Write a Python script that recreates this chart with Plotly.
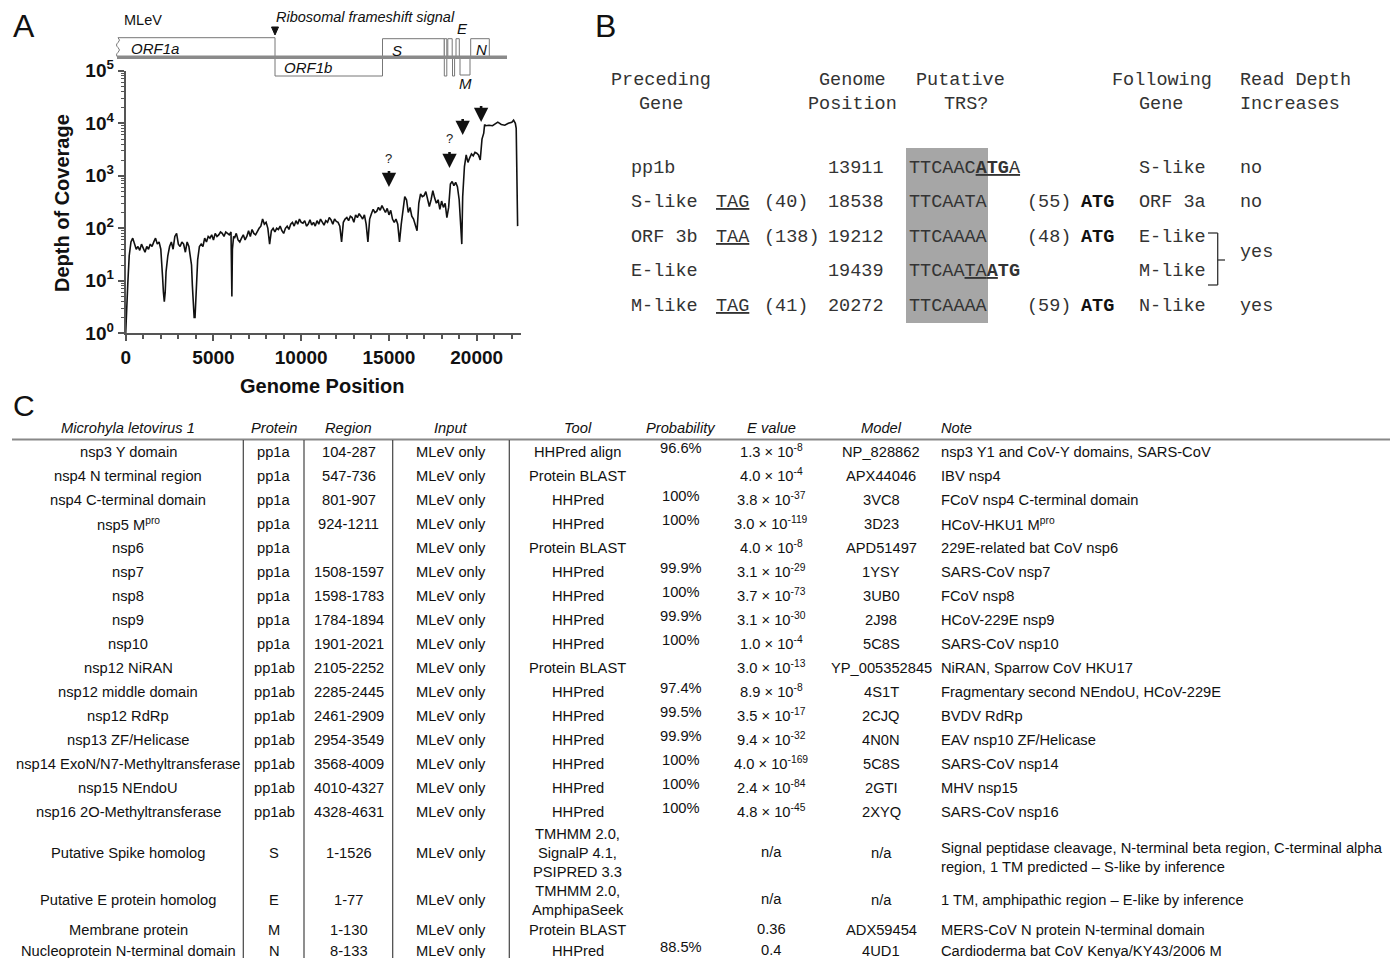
import math
import plotly.graph_objects as go

W, H = 1400, 958
SANS = "Liberation Sans"
MONO = "Liberation Mono"


def X(px):
    return px / W


def Y(py):
    return 1 - py / H


# ---------------- Panel A data ----------------
positions = [0, 60, 120, 200, 300, 400, 500, 600, 700, 800, 900, 1000, 1100, 1200, 1300, 1400, 1500,
             1600, 1700, 1800, 1900, 2000, 2050, 2100, 2150, 2200, 2250, 2300, 2400, 2500, 2600, 2700,
             2800, 2900, 3000, 3100, 3200, 3300, 3400, 3500, 3600, 3700, 3750, 3800, 3850, 3900, 3950,
             4000, 4050, 4100, 4200, 4300, 4400, 4500, 4600, 4700, 4800, 4900, 5000, 5100, 5200, 5300,
             5400, 5500, 5600, 5700, 5800, 5900, 6000, 6050, 6080, 6150, 6200, 6300, 6400, 6500, 6600,
             6700, 6800, 6900, 7000, 7100, 7200, 7300, 7400, 7500, 7600, 7700, 7800, 7900, 8000, 8100,
             8200, 8300, 8400, 8500, 8600, 8700, 8800, 8900, 9000, 9100, 9200, 9300, 9400, 9500, 9600,
             9700, 9800, 9900, 10000, 10100, 10200, 10300, 10400, 10500, 10600, 10700, 10800, 10900,
             11000, 11100, 11200, 11300, 11400, 11500, 11600, 11700, 11800, 11900, 12000, 12100, 12200,
             12300, 12400, 12500, 12600, 12700, 12800, 12900, 13000, 13100, 13200, 13300, 13400, 13500,
             13600, 13700, 13800, 13900, 14000, 14100, 14200, 14300, 14400, 14500, 14600, 14700, 14800,
             14900, 15000, 15100, 15200, 15300, 15400, 15500, 15600, 15700, 15800, 15900, 16000, 16100,
             16200, 16300, 16400, 16500, 16600, 16700, 16800, 16900, 17000, 17100, 17200, 17300, 17400,
             17500, 17600, 17700, 17800, 17900, 18000, 18100, 18200, 18300, 18400, 18500, 18600, 18700,
             18800, 18900, 19000, 19100, 19150, 19200, 19300, 19400, 19500, 19600, 19700, 19800, 19900,
             20000, 20100, 20200, 20300, 20400, 20450, 20500, 20700, 20900, 21000, 21200, 21400, 21600,
             21800, 22000, 22100, 22200, 22250, 22300, 22330]
depth = [1, 5, 9, 30, 55, 65, 50, 40, 45, 38, 50, 42, 35, 45, 40, 50, 45,
         55, 65, 50, 55, 40, 25, 12, 6, 4, 6, 15, 30, 45, 55, 40,
         70, 80, 50, 45, 55, 50, 35, 55, 45, 25, 20, 8, 3, 2, 2,
         5, 15, 25, 45, 50, 45, 65, 55, 70, 65, 75, 60, 80, 70, 75,
         85, 80, 70, 85, 80, 75, 85, 5, 40, 70, 65, 80, 60, 55, 65,
         75, 60, 70, 90, 70, 95, 80, 75, 90, 100, 110, 150, 120, 130, 100,
         50, 90, 100, 85, 100, 95, 110, 90, 80, 100, 110, 95, 120, 130, 110,
         140, 120, 150, 130, 125, 140, 110, 120, 145, 115, 130, 110, 140,
         120, 150, 130, 115, 140, 130, 160, 145, 120, 150, 135, 130, 110,
         55, 130, 150, 160, 140, 170, 160, 130, 180, 160, 190, 170, 150,
         180, 120, 55, 150, 190, 230, 200, 210, 250, 220, 270, 230, 200,
         240, 180, 220, 150, 130, 150, 120, 55, 120, 250, 400, 350, 200,
         250, 170, 150, 120, 90, 300, 450, 400, 420, 500, 380, 260, 350,
         520, 380, 300, 350, 230, 330, 250, 300, 160, 250, 700, 780, 650,
         750, 620, 350, 100, 50, 400, 1500, 2500, 1800, 2200, 2600, 2400, 2800,
         2700, 2500, 2000, 5000, 6500, 9500, 9000, 9200, 9000, 9500, 10500, 9500, 9200,
         10000, 10500, 11500, 10000, 8000, 500, 110]

x_major = [0, 5000, 10000, 15000, 20000]
x_major_text = ["0", "5000", "10000", "15000", "20000"]
y_major = [1, 10, 100, 1000, 10000, 100000]
y_major_text = ["10<sup>0</sup>", "10<sup>1</sup>", "10<sup>2</sup>", "10<sup>3</sup>",
                "10<sup>4</sup>", "10<sup>5</sup>"]
x_minor = [v for v in range(1000, 23000, 1000) if v % 5000 != 0]
y_minor = [k * 10 ** n for n in range(0, 5) for k in range(2, 10)]

# arrows: genome position, depth at arrow tip, has question mark
arrow_pos = [15000, 18450, 19200, 20250]
arrow_tip = [610, 1410, 5980, 10600]
arrow_q = [True, True, False, False]

# ---------------- Panel B data ----------------
b_prev = ["pp1b", "S-like", "ORF 3b", "E-like", "M-like"]
b_stop = ["", "<u>TAG</u>", "<u>TAA</u>", "", "<u>TAG</u>"]
b_stopdist = ["", "(40)", "(138)", "", "(41)"]
b_pos = ["13911", "18538", "19212", "19439", "20272"]
b_trs = ["TTCAAC<u><b>ATG</b>A</u>", "TTCAATA", "TTCAAAA", "TTCAA<u>TA<b>A</b></u><b>TG</b>", "TTCAAAA"]
b_atgdist = ["", "(55)", "(48)", "", "(59)"]
b_atg = ["", "<b>ATG</b>", "<b>ATG</b>", "", "<b>ATG</b>"]
b_next = ["S-like", "ORF 3a", "E-like", "M-like", "N-like"]
b_depth = ["no", "no", "", "", "yes"]

# ---------------- Panel C data ----------------
c_headers = ["Microhyla letovirus 1", "Protein", "Region", "Input", "Tool", "Probability",
             "E value", "Model", "Note"]
c_names = ["nsp3 Y domain", "nsp4 N terminal region", "nsp4 C-terminal domain", "nsp5 M<sup>pro</sup>",
           "nsp6", "nsp7", "nsp8", "nsp9", "nsp10", "nsp12 NiRAN", "nsp12 middle domain", "nsp12 RdRp",
           "nsp13 ZF/Helicase", "nsp14 ExoN/N7-Methyltransferase", "nsp15 NEndoU",
           "nsp16 2O-Methyltransferase", "Putative Spike homolog", "Putative E protein homolog",
           "Membrane protein", "Nucleoprotein N-terminal domain"]
c_protein = ["pp1a"] * 9 + ["pp1ab"] * 7 + ["S", "E", "M", "N"]
c_region = ["104-287", "547-736", "801-907", "924-1211", "", "1508-1597", "1598-1783", "1784-1894",
            "1901-2021", "2105-2252", "2285-2445", "2461-2909", "2954-3549", "3568-4009", "4010-4327",
            "4328-4631", "1-1526", "1-77", "1-130", "8-133"]
c_input = ["MLeV only"] * 20
c_tool = ["HHPred align", "Protein BLAST", "HHPred", "HHPred", "Protein BLAST", "HHPred", "HHPred",
          "HHPred", "HHPred", "Protein BLAST", "HHPred", "HHPred", "HHPred", "HHPred", "HHPred", "HHPred",
          "TMHMM 2.0,<br>SignalP 4.1,<br>PSIPRED 3.3", "TMHMM 2.0,<br>AmphipaSeek", "Protein BLAST", "HHPred"]
c_prob = ["96.6%", "", "100%", "100%", "", "99.9%", "100%", "99.9%", "100%", "", "97.4%", "99.5%",
          "99.9%", "100%", "100%", "100%", "", "", "", "88.5%"]
c_evalue = ["1.3 × 10<sup>-8</sup>", "4.0 × 10<sup>-4</sup>", "3.8 × 10<sup>-37</sup>",
            "3.0 × 10<sup>-119</sup>", "4.0 × 10<sup>-8</sup>", "3.1 × 10<sup>-29</sup>",
            "3.7 × 10<sup>-73</sup>", "3.1 × 10<sup>-30</sup>", "1.0 × 10<sup>-4</sup>",
            "3.0 × 10<sup>-13</sup>", "8.9 × 10<sup>-8</sup>", "3.5 × 10<sup>-17</sup>",
            "9.4 × 10<sup>-32</sup>", "4.0 × 10<sup>-169</sup>", "2.4 × 10<sup>-84</sup>",
            "4.8 × 10<sup>-45</sup>", "n/a", "n/a", "0.36", "0.4"]
c_model = ["NP_828862", "APX44046", "3VC8", "3D23", "APD51497", "1YSY", "3UB0", "2J98", "5C8S",
           "YP_005352845", "4S1T", "2CJQ", "4N0N", "5C8S", "2GTI", "2XYQ", "n/a", "n/a", "ADX59454", "4UD1"]
c_note = ["nsp3 Y1 and CoV-Y domains, SARS-CoV", "IBV nsp4", "FCoV nsp4 C-terminal domain",
          "HCoV-HKU1 M<sup>pro</sup>", "229E-related bat CoV nsp6", "SARS-CoV nsp7", "FCoV nsp8",
          "HCoV-229E nsp9", "SARS-CoV nsp10", "NiRAN, Sparrow CoV HKU17",
          "Fragmentary second NEndoU, HCoV-229E", "BVDV RdRp", "EAV nsp10 ZF/Helicase", "SARS-CoV nsp14",
          "MHV nsp15", "SARS-CoV nsp16",
          "Signal peptidase cleavage, N-terminal beta region, C-terminal alpha<br>region, 1 TM predicted – S-like by inference",
          "1 TM, amphipathic region – E-like by inference", "MERS-CoV N protein N-terminal domain",
          "Cardioderma bat CoV Kenya/KY43/2006 M"]

# ---------------- Figure ----------------
fig = go.Figure()
fig.add_trace(go.Scatter(x=positions, y=depth, mode="lines",
                         line=dict(color="#111111", width=1.6),
                         hoverinfo="skip", showlegend=False))

annotations = []
shapes = []
TF = 14.7  # table font size


def txt(px, py, s, size=TF, family=SANS, xanchor="center", color="#111111", align=None, angle=0):
    if not s:
        return
    d = dict(x=X(px), y=Y(py), xref="paper", yref="paper", text=s, showarrow=False,
             xanchor=xanchor, yanchor="middle", textangle=angle,
             font=dict(size=size, family=family, color=color), borderpad=0)
    if align:
        d["align"] = align
    annotations.append(d)


def line(x0, y0, x1, y1, color="#333333", width=1):
    shapes.append(dict(type="line", xref="paper", yref="paper", x0=X(x0), y0=Y(y0), x1=X(x1), y1=Y(y1),
                       line=dict(color=color, width=width), layer="above"))


def rect(x0, y0, x1, y1, fill="white", color="#777777", width=1):
    shapes.append(dict(type="rect", xref="paper", yref="paper", x0=X(x0), y0=Y(y0), x1=X(x1), y1=Y(y1),
                       fillcolor=fill, line=dict(color=color, width=width), layer="above"))


def path(points_str, fill="white", color="#777777", width=1):
    shapes.append(dict(type="path", xref="paper", yref="paper", path=points_str,
                       fillcolor=fill, line=dict(color=color, width=width), layer="above"))


def P(px, py):
    return f"{X(px):.5f},{Y(py):.5f}"


# ---- Panel A: genome diagram ----
txt(24, 26, "A", size=32)
txt(123, 20, "MLeV", size=14.5, xanchor="left")
txt(275, 17, "<i>Ribosomal frameshift signal</i>", size=14.5, xanchor="left")
path("M " + P(271.5, 27) + " L " + P(278.5, 27) + " L " + P(275, 35) + " Z", fill="#111111", color="#111111")
# ORF1a with wavy left edge
path("M " + P(118, 57.3) + " Q " + P(115, 55) + " " + P(118, 52.4) + " Q " + P(121, 50) + " " + P(118, 47.5)
     + " Q " + P(115, 45) + " " + P(118, 42.6) + " Q " + P(121, 40) + " " + P(118, 37.7)
     + " L " + P(275, 37.7) + " L " + P(275, 57.3) + " Z")
rect(275, 57.3, 382.5, 76)            # ORF1b
rect(382.5, 38.7, 444.3, 57.3)        # S
rect(444.3, 38.7, 446.8, 76)          # small ORF
rect(447.8, 38.7, 452.2, 57.3)
rect(452.5, 57.3, 454.6, 76)
rect(456, 38.7, 459.3, 57.3)          # E
rect(460, 57.3, 470, 75)              # M
rect(470.7, 38.7, 489.3, 57.3)        # N
line(117, 57.3, 507, 57.3, color="#8a8a8a", width=3.5)
txt(130, 48, "<i>ORF1a</i>", size=15, xanchor="left")
txt(283, 68, "<i>ORF1b</i>", size=15, xanchor="left")
txt(397, 50, "<i>S</i>", size=15)
txt(462, 29, "<i>E</i>", size=15)
txt(465, 84, "<i>M</i>", size=15)
txt(481, 49, "<i>N</i>", size=15)

# axis titles
txt(62, 203, "<b>Depth of Coverage</b>", size=20, angle=-90)
txt(322, 386, "<b>Genome Position</b>", size=20)

# arrows on the coverage plot
for xp, tip, q in zip(arrow_pos, arrow_tip, arrow_q):
    annotations.append(dict(x=xp, y=math.log10(tip), xref="x", yref="y", text=" ", showarrow=True,
                            ax=0, ay=-19, arrowhead=2, arrowsize=1.1, arrowwidth=2.6,
                            arrowcolor="#111111", standoff=0, font=dict(size=2)))
    if q:
        annotations.append(dict(x=xp, y=math.log10(tip), xref="x", yref="y", text="?", showarrow=False,
                                yshift=29, font=dict(size=13, family=SANS, color="#222222")))

# ---- Panel B ----
txt(605, 26, "B", size=32)
BF = 18.5
BC = "#333333"
rect(906, 148, 988, 323, fill="#a6a6a6", color="#a6a6a6", width=0)
for s, xx, yy in [("Preceding", 610, 81), ("Gene", 638, 104), ("Genome", 818, 81), ("Position", 807, 104),
                  ("Putative", 915, 81), ("TRS?", 943, 104), ("Following", 1111, 81), ("Gene", 1138, 104),
                  ("Read Depth", 1239, 81), ("Increases", 1239, 104)]:
    txt(xx, yy, s, size=BF, family=MONO, xanchor="left", color=BC)
b_rows = [168, 202.5, 237, 271.5, 306]
for i, yy in enumerate(b_rows):
    txt(630, yy, b_prev[i], size=BF, family=MONO, xanchor="left", color=BC)
    txt(715, yy, b_stop[i], size=BF, family=MONO, xanchor="left", color=BC)
    txt(763, yy, b_stopdist[i], size=BF, family=MONO, xanchor="left", color=BC)
    txt(885, yy, b_pos[i], size=BF, family=MONO, xanchor="right", color=BC)
    txt(908, yy, b_trs[i], size=BF, family=MONO, xanchor="left", color=BC)
    txt(1026, yy, b_atgdist[i], size=BF, family=MONO, xanchor="left", color=BC)
    txt(1080, yy, b_atg[i], size=BF, family=MONO, xanchor="left", color="#111111")
    txt(1138, yy, b_next[i], size=BF, family=MONO, xanchor="left", color=BC)
    txt(1239, yy, b_depth[i], size=BF, family=MONO, xanchor="left", color=BC)
# brace for E-like / M-like
line(1208, 233, 1217.7, 233, color="#333333", width=1.3)
line(1217.7, 233, 1217.7, 285, color="#333333", width=1.3)
line(1208, 285, 1217.7, 285, color="#333333", width=1.3)
line(1217.7, 260, 1225, 260, color="#333333", width=1.3)
txt(1239, 252.5, "yes", size=BF, family=MONO, xanchor="left", color=BC)

# ---- Panel C ----
txt(24, 406, "C", size=30)
col_x = [128, 274, 348.5, 451, 577.5, 681, 771, 881]
for s, cx in zip(c_headers[:-1], col_x):
    txt(cx, 428, "<i>" + s + "</i>")
txt(940, 428, "<i>" + c_headers[-1] + "</i>", xanchor="left")
line(12, 439.5, 1390, 439.5, color="#888888", width=2)
for vx in [243.3, 304, 392.7, 509.3]:
    line(vx, 440, vx, 958, color="#444444", width=1.2)

row_y = [452 + 24 * i for i in range(16)] + [853, 900, 930, 951]
for i, yy in enumerate(row_y):
    txt(col_x[0], yy, c_names[i])
    txt(col_x[1], yy, c_protein[i])
    txt(col_x[2], yy, c_region[i])
    txt(col_x[3], yy, c_input[i])
    txt(col_x[4], yy, c_tool[i])
    txt(col_x[5], yy - 4, c_prob[i])
    txt(col_x[6], yy - 1, c_evalue[i])
    txt(col_x[7], yy, c_model[i])
    ny = yy + 4 if i == 16 else yy
    txt(940, ny, c_note[i], xanchor="left", align="left")

axis_common = dict(showline=True, linecolor="#555555", linewidth=2, ticks="outside", ticklen=6,
                   tickwidth=2, tickcolor="#555555", showgrid=False, zeroline=False, mirror=False,
                   automargin=False,
                   tickfont=dict(family=SANS, size=19, color="#111111"))

fig.update_layout(
    width=W, height=H,
    margin=dict(l=0, r=0, t=0, b=0, pad=0, autoexpand=False),
    paper_bgcolor="white", plot_bgcolor="rgba(0,0,0,0)",
    showlegend=False,
    xaxis=dict(domain=[X(125.7), X(520.6)], range=[0, 22500], tickmode="array", tickvals=x_major,
               ticktext=["<b>" + t + "</b>" for t in x_major_text],
               minor=dict(tickmode="array", tickvals=x_minor, ticks="outside", ticklen=4,
                          tickwidth=1.5, tickcolor="#555555", showgrid=False),
               anchor="y", **axis_common),
    yaxis=dict(domain=[Y(333.3), Y(70.8)], type="log", range=[0, 5], tickmode="array", tickvals=y_major,
               ticktext=["<b>" + t + "</b>" for t in y_major_text],
               minor=dict(tickmode="array", tickvals=y_minor, ticks="outside", ticklen=3,
                          tickwidth=1, tickcolor="#555555", showgrid=False),
               anchor="x", **axis_common),
    annotations=annotations,
    shapes=shapes,
)

fig.write_html(
    "out.html",
    config={"displayModeBar": False},
    post_script=(
        "document.documentElement.style.margin='0';"
        "document.documentElement.style.height='958px';"
        "document.documentElement.style.overflow='hidden';"
        "document.body.style.margin='0';document.body.style.padding='0';"
        "document.body.style.height='958px';document.body.style.overflow='hidden';"
        "var gd=document.getElementById('{plot_id}');"
        "gd.style.position='absolute';gd.style.left='0px';gd.style.top='0px';"
    ),
)
